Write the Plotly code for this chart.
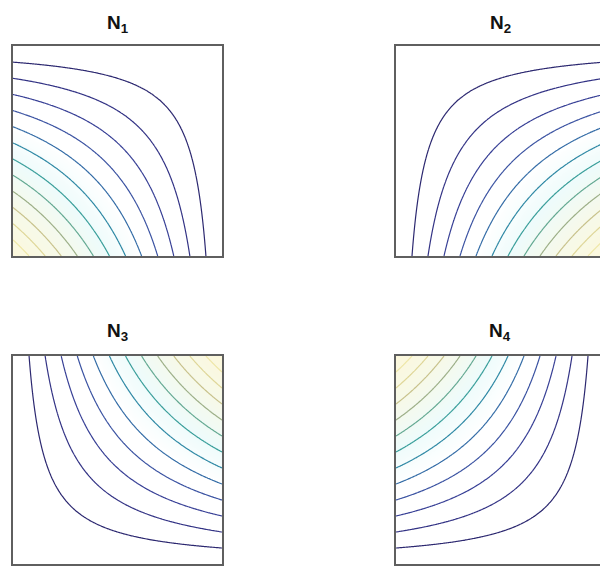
import numpy as np
import plotly.graph_objects as go

# Corner nodes of the bilinear quadrilateral element (natural coordinates)
node_xi = [-1, 1, 1, -1]
node_eta = [-1, -1, 1, 1]
titles = ["N<sub>1</sub>", "N<sub>2</sub>", "N<sub>3</sub>", "N<sub>4</sub>"]
n_levels = 12

# Sampling grid over the element
xi = np.linspace(-1, 1, 161)
eta = np.linspace(-1, 1, 161)
XI, ETA = np.meshgrid(xi, eta)

# Soft parula-style colour map for the contour lines
line_map = [
    [0.00, "#2c2870"], [0.15, "#373a92"], [0.30, "#3c58a6"],
    [0.42, "#2f7fa8"], [0.52, "#2f9c9e"], [0.62, "#5aa894"],
    [0.72, "#9aae88"], [0.82, "#c9c28c"], [0.92, "#e2d899"],
    [1.00, "#eee6a6"],
]
# Very light tint behind the lines
tint_map = [
    [0.00, "#ffffff"], [0.38, "#ffffff"], [0.55, "#eefbfb"],
    [0.75, "#f6f9ea"], [1.00, "#fcf8dc"],
]

W, H = 600, 567
# panel boxes in pixels: (left, right, top, bottom)
boxes = [
    (13, 222, 46, 256),
    (396, 604, 46, 256),
    (13, 222, 356, 564),
    (396, 604, 356, 564),
]
title_mid = [24, 24, 332, 332]

fig = go.Figure()
step = 1.0 / (n_levels + 1)

for i in range(4):
    N = (1 + XI * node_xi[i]) * (1 + ETA * node_eta[i]) / 4.0
    ax = "" if i == 0 else str(i + 1)
    fig.add_trace(go.Heatmap(
        x=xi, y=eta, z=N, xaxis="x" + ax, yaxis="y" + ax,
        colorscale=tint_map, zmin=0, zmax=1, showscale=False,
        hoverinfo="skip", zsmooth="best",
    ))
    fig.add_trace(go.Contour(
        x=xi, y=eta, z=N,
        xaxis="x" + ax, yaxis="y" + ax,
        contours=dict(coloring="lines", start=step, end=n_levels * step + 1e-9,
                      size=step, showlabels=False),
        line=dict(width=1.2, smoothing=1),
        colorscale=line_map, zmin=0, zmax=1, zauto=False,
        showscale=False, hoverinfo="skip",
    ))

    l, r, t, b = boxes[i]
    x0 = l / W
    x1 = min(r, W) / W
    # visible part of the x range when the panel runs past the page edge
    xr_hi = -1 + 2 * (min(r, W) - l) / (r - l)
    right_panel = r > W
    fig.layout["xaxis" + ax] = dict(
        domain=[x0, x1], range=[-1, xr_hi], anchor="y" + ax,
        showline=True, mirror=True, linecolor="#5f5f5f", linewidth=1.8,
        showticklabels=False, ticks="", showgrid=False, zeroline=False,
    )
    fig.layout["yaxis" + ax] = dict(
        domain=[1 - b / H, 1 - t / H], range=[-1, 1], anchor="x" + ax,
        showline=True, mirror=not right_panel, linecolor="#5f5f5f", linewidth=1.8,
        showticklabels=False, ticks="", showgrid=False, zeroline=False,
    )
    fig.add_annotation(
        text="<b>" + titles[i] + "</b>",
        xref="paper", yref="paper",
        x=((l + r) / 2) / W, y=1 - title_mid[i] / H,
        xanchor="center", yanchor="middle", showarrow=False,
        font=dict(family="Liberation Sans, Arial", size=19, color="#111111"),
    )

fig.update_layout(
    width=W, height=H,
    margin=dict(l=0, r=0, t=0, b=0),
    paper_bgcolor="white", plot_bgcolor="white",
    showlegend=False,
)

fig.write_html("out.html")
